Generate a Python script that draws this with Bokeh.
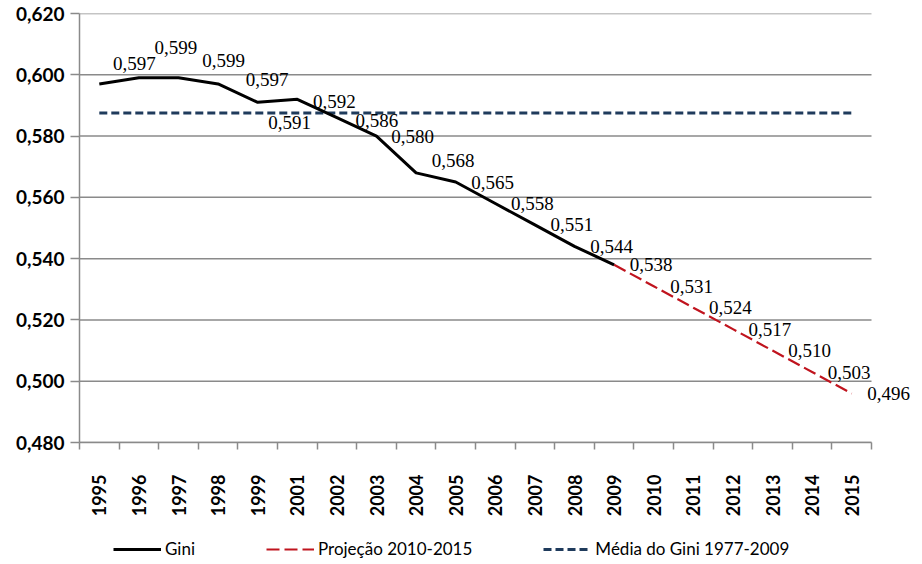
import math
from bokeh.plotting import figure
from bokeh.layouts import column
from bokeh.models import (FixedTicker, CustomJSTickFormatter, ColumnDataSource,
                          LabelSet, Legend, LegendItem, Range1d)
from bokeh.embed import file_html
from bokeh.resources import INLINE

# ---- data ----
years = ["1995", "1996", "1997", "1998", "1999", "2001", "2002", "2003", "2004",
         "2005", "2006", "2007", "2008", "2009", "2010", "2011", "2012", "2013",
         "2014", "2015"]
gini_years = years[:14]
gini = [0.597, 0.599, 0.599, 0.597, 0.591, 0.592, 0.586, 0.580, 0.568, 0.565,
        0.558, 0.551, 0.544, 0.538]
proj_years = years[13:]
proj = [0.538, 0.531, 0.524, 0.517, 0.510, 0.503, 0.496]
media_gini = 0.5875
y_ticks = [0.48, 0.50, 0.52, 0.54, 0.56, 0.58, 0.60, 0.62]
series_names = ["Gini", "Projeção 2010-2015", "Média do Gini 1977-2009"]

# label nudges (px) as placed in the original chart
label_dx = [-2, 0, 8, 12, -5, 0, 3, -1, 0, 0, 0, 0, 0, 0, 1, 0, 0, 0, 0, 0]
label_dy = [20, 30, 17, 4, -20, -2, -3, 0, 12, 0, 0, 0, 0, 0, 0, 0, 0, 0, 0, 0]

GREY = "#8a8a8a"
STYLES = [dict(line_color="black", line_width=3),
          dict(line_color="#c0141e", line_width=2.2, line_dash="13 5"),
          dict(line_color="#1f3b5c", line_width=3, line_dash="8 4")]
n = len(years)
idx = {y: i + 0.5 for i, y in enumerate(years)}

CAT_W = 39.6            # px per category in the plotting area
FRAME_W = 833           # extra room on the right for the last data label
x_end = FRAME_W / CAT_W

p = figure(width=912, height=516, output_backend="svg", toolbar_location=None,
           x_range=Range1d(0, x_end), y_range=Range1d(y_ticks[0], y_ticks[-1]),
           frame_width=FRAME_W, frame_height=429,
           min_border_left=79, min_border_right=0, min_border_top=13,
           min_border_bottom=74)
p.outline_line_color = None
p.background_fill_color = "white"
p.border_fill_color = "white"

# x axis
p.xaxis.bounds = (0, n)
p.xaxis.ticker = FixedTicker(ticks=[idx[y] for y in years],
                             minor_ticks=list(range(n + 1)))
p.xaxis.formatter = CustomJSTickFormatter(args=dict(years=years),
                                          code="return years[Math.floor(tick)];")
p.xaxis.major_label_orientation = math.pi / 2
p.xaxis.major_tick_line_color = None
p.xaxis.major_tick_out = 0
p.xaxis.major_tick_in = 0
p.xaxis.minor_tick_line_color = GREY
p.xaxis.minor_tick_line_width = 1.5
p.xaxis.minor_tick_out = 7
p.xaxis.minor_tick_in = 0
p.xaxis.axis_line_color = GREY
p.xaxis.axis_line_width = 1.5
p.xaxis.major_label_standoff = 25
p.xaxis.major_label_text_font = "Lato"
p.xaxis.major_label_text_font_style = "bold"
p.xaxis.major_label_text_font_size = "18px"
p.xaxis.major_label_text_color = "black"

# y axis
p.yaxis.ticker = FixedTicker(ticks=y_ticks)
p.yaxis.formatter = CustomJSTickFormatter(
    code="return tick.toFixed(3).replace('.', ',');")
p.yaxis.major_tick_out = 9
p.yaxis.major_tick_in = 0
p.yaxis.minor_tick_line_color = None
p.yaxis.major_tick_line_color = GREY
p.yaxis.major_tick_line_width = 1.5
p.yaxis.axis_line_color = GREY
p.yaxis.axis_line_width = 1.5
p.yaxis.major_label_standoff = 6
p.yaxis.major_label_text_font = "Lato"
p.yaxis.major_label_text_font_style = "bold"
p.yaxis.major_label_text_font_size = "19px"
p.yaxis.major_label_text_color = "black"

# horizontal gridlines, limited to the category area
p.xgrid.grid_line_color = None
p.ygrid.grid_line_color = None
p.segment(x0=[0] * len(y_ticks), x1=[n] * len(y_ticks), y0=y_ticks, y1=y_ticks,
          line_color=GREY, line_width=1.5)

# series
series_xy = [
    ([idx[y] for y in gini_years], gini),
    ([idx[y] for y in proj_years], proj),
    ([idx[years[0]], idx[years[-1]]], [media_gini, media_gini]),
]
p.line(*series_xy[2], **STYLES[2])
p.line(*series_xy[1], **STYLES[1])
p.line(*series_xy[0], line_join="round", **STYLES[0])

# data labels
all_vals = gini + proj[1:]
src = ColumnDataSource(dict(
    x=[idx[y] for y in years],
    y=all_vals,
    txt=[f"{v:.3f}".replace(".", ",") for v in all_vals],
    dx=[37 + d for d in label_dx],
    dy=label_dy,
))
labels = LabelSet(x="x", y="y", text="txt", source=src, x_offset="dx",
                  y_offset="dy", text_align="center", text_baseline="middle",
                  text_font="DejaVu Serif", text_font_size="19px",
                  text_color="black")
p.add_layout(labels)

# legend strip below the chart (series re-drawn off-screen only to key the legend)
lf = figure(width=912, height=40, output_backend="svg", toolbar_location=None,
            x_axis_location=None, y_axis_location=None,
            x_range=Range1d(0, 1), y_range=Range1d(10, 11),
            min_border_left=0, min_border_right=0, min_border_top=0,
            min_border_bottom=0)
lf.grid.grid_line_color = None
lf.outline_line_color = None
lf.border_fill_color = "white"
items = []
for name, st, (xs, ys) in zip(series_names, STYLES, series_xy):
    r = lf.line(xs, ys, **st)
    items.append(LegendItem(label=name, renderers=[r]))
legend = Legend(items=items, orientation="horizontal", location=(34, 0),
                padding=0, spacing=71, glyph_width=48, glyph_height=16,
                label_height=16, label_standoff=4, margin=0,
                border_line_color=None, background_fill_alpha=0,
                label_text_font="Lato", label_text_font_size="17px",
                label_text_color="black")
lf.add_layout(legend, "center")

layout = column(p, lf, spacing=0)
open("out.html", "w").write(file_html(layout, INLINE))
